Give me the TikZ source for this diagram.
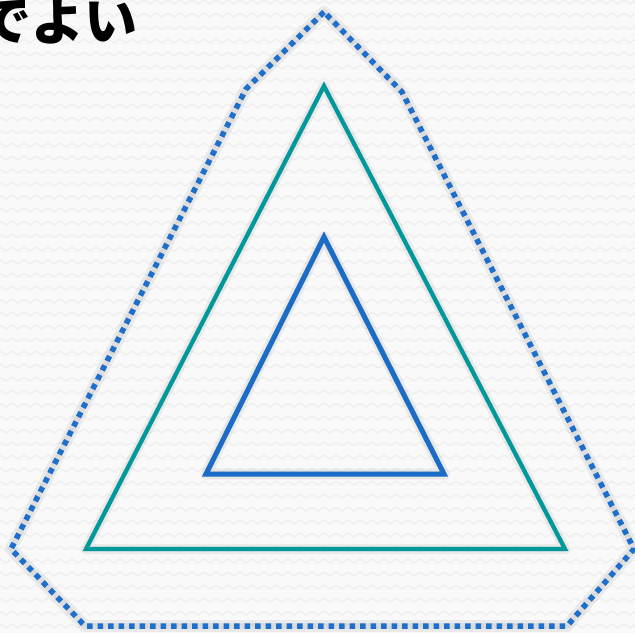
\documentclass[tikz,border=0pt]{standalone}
\usepackage{fontspec}
\newfontfamily\jpfont{Noto Sans CJK JP}
\definecolor{bgcol}{HTML}{F9F9F9}
\definecolor{zigcol}{HTML}{EEEEEE}
\definecolor{dotblue}{HTML}{1E6FCB}
\definecolor{tealc}{HTML}{00999B}
\definecolor{innerblue}{HTML}{1B6CC6}
\tikzset{
  shadowline/.style={draw=black!40, opacity=0.15, line width=#1, line join=round},
  dotline/.style={draw=dotblue, line width=5.5pt, dash pattern=on 5.5pt off 5pt, line join=round},
  tealline/.style={draw=tealc, line width=4.2pt, line join=miter},
  blueline/.style={draw=innerblue, line width=5pt, line join=miter},
  titletext/.style={font=\jpfont\bfseries\fontsize{53}{53}\selectfont, text=black, inner sep=0pt}
}
\begin{document}
\begin{tikzpicture}[x=1pt,y=-1pt]
\useasboundingbox (0,0) rectangle (635,633);
\fill[bgcol] (0,0) rectangle (635,633);
\begin{scope}
\clip (0,0) rectangle (635,633);
\foreach \r in {0,...,49}{
  \draw[zigcol, line width=1.2pt]
    (-6,{\r*13+4}) \foreach \k in {0,...,54}{ -- ({\k*12},{\r*13}) -- ({\k*12+6},{\r*13+4}) };
}
\node[titletext, anchor=base east] (title) at (138,40) {でよい};
\end{scope}
% coordinates
\coordinate (o1) at (324,12);
\coordinate (o2) at (246,89);
\coordinate (o3) at (11,549);
\coordinate (o4) at (85,626);
\coordinate (o5) at (567,626);
\coordinate (o6) at (634,549);
\coordinate (o7) at (402,92);
\coordinate (t1) at (324,86);
\coordinate (t2) at (86,549);
\coordinate (t3) at (565,549);
\coordinate (b1) at (324,237);
\coordinate (b2) at (206,474);
\coordinate (b3) at (444,474);
% shadows
\begin{scope}[shift={(3,5)}]
\draw[shadowline=12pt] (o1) -- (o2) -- (o3) -- (o4) -- (o5) -- (o6) -- (o7) -- cycle;
\draw[shadowline=6pt] (o1) -- (o2) -- (o3) -- (o4) -- (o5) -- (o6) -- (o7) -- cycle;
\draw[shadowline=10pt] (t1) -- (t2) -- (t3) -- cycle;
\draw[shadowline=5pt] (t1) -- (t2) -- (t3) -- cycle;
\draw[shadowline=11pt] (b1) -- (b2) -- (b3) -- cycle;
\draw[shadowline=6pt] (b1) -- (b2) -- (b3) -- cycle;
\end{scope}
% lines
\draw[dotline] (o1) -- (o2) -- (o3) -- (o4) -- (o5) -- (o6) -- (o7) -- cycle;
\draw[tealline] (t1) -- (t2) -- (t3) -- cycle;
\draw[blueline] (b1) -- (b2) -- (b3) -- cycle;
\end{tikzpicture}
\end{document}
